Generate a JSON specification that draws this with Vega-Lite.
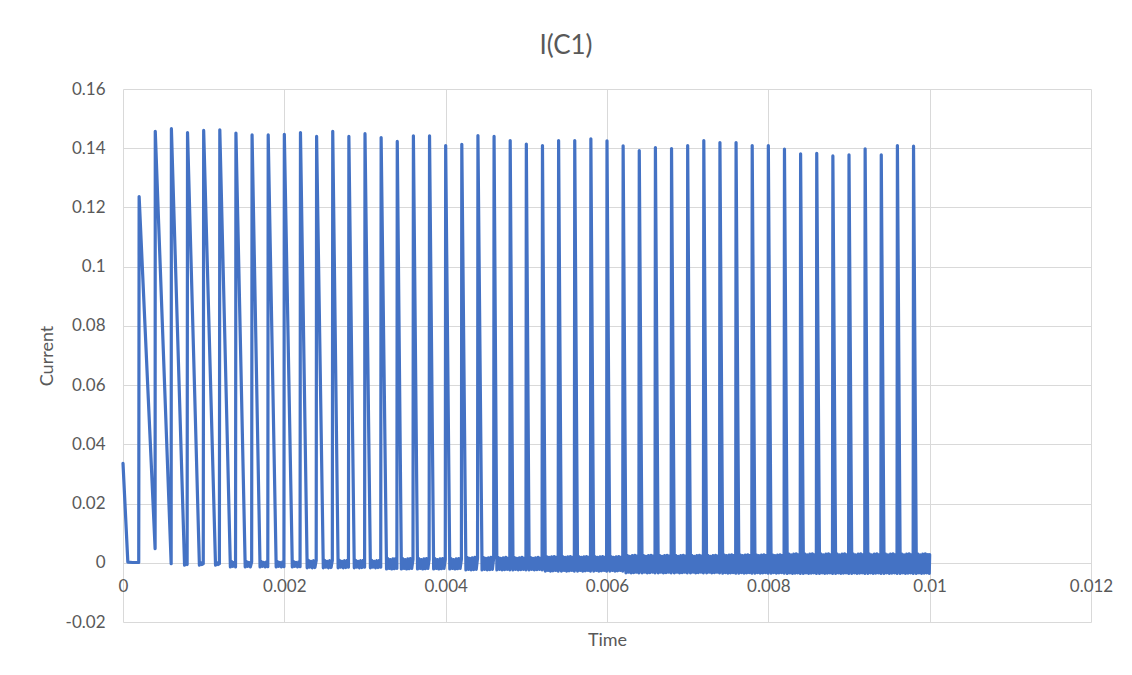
{
"$schema":"https://vega.github.io/schema/vega-lite/v6.json",
"width":968,"height":533,
"autosize":{"type":"none"},
"padding":{"left":123,"top":89,"right":41,"bottom":53},
"background":"white",
"title":{"text":"I(C1)","anchor":"middle","fontSize":26,"font":"Lato","fontWeight":"normal","color":"#595959","dx":-41,"offset":0,"baseline":"alphabetic"},
"data":{"values":[
{"t":0,"i":0.0336},{"t":0.00006,"i":0.0002},{"t":0.00012,"i":0.0001},{"t":0.000195,"i":0.0001},
{"t":0.0002,"i":0.1237},{"t":0.000398,"i":0.0048},
{"t":0.0004,"i":0.1457},{"t":0.000597,"i":-0.0003},
{"t":0.0006,"i":0.1466},{"t":0.000763,"i":-0.0008},{"t":0.000779,"i":0},{"t":0.000795,"i":-0.0006},
{"t":0.0008,"i":0.1453},{"t":0.000947,"i":-0.0008},{"t":0.000963,"i":0},{"t":0.000979,"i":-0.0006},{"t":0.000995,"i":-0.0003},
{"t":0.001,"i":0.146},{"t":0.001147,"i":-0.0008},{"t":0.001163,"i":0},{"t":0.001179,"i":-0.0006},{"t":0.001195,"i":-0.0003},
{"t":0.0012,"i":0.1462},{"t":0.001331,"i":-0.0014},{"t":0.001347,"i":0.0004},{"t":0.001363,"i":-0.0012},{"t":0.001379,"i":0.0001},{"t":0.001395,"i":-0.0014},
{"t":0.0014,"i":0.1451},{"t":0.001515,"i":-0.0014},{"t":0.001531,"i":0.0004},{"t":0.001547,"i":-0.0012},{"t":0.001563,"i":0.0001},{"t":0.001579,"i":-0.0014},{"t":0.001595,"i":0.0003},
{"t":0.0016,"i":0.1445},{"t":0.001699,"i":-0.0014},{"t":0.001715,"i":0.0004},{"t":0.001731,"i":-0.0012},{"t":0.001747,"i":0.0001},{"t":0.001763,"i":-0.0014},{"t":0.001779,"i":0.0003},{"t":0.001795,"i":-0.0013},
{"t":0.0018,"i":0.1445},{"t":0.001899,"i":-0.0014},{"t":0.001915,"i":0.0004},{"t":0.001931,"i":-0.0012},{"t":0.001947,"i":0.0001},{"t":0.001963,"i":-0.0014},{"t":0.001979,"i":0.0003},{"t":0.001995,"i":-0.0013},
{"t":0.002,"i":0.1447},{"t":0.002099,"i":-0.0014},{"t":0.002115,"i":0.0004},{"t":0.002131,"i":-0.0012},{"t":0.002147,"i":0.0001},{"t":0.002163,"i":-0.0014},{"t":0.002179,"i":0.0003},{"t":0.002195,"i":-0.0013},
{"t":0.0022,"i":0.1453},{"t":0.002283,"i":-0.0017},{"t":0.002299,"i":0.0008},{"t":0.002315,"i":-0.0015},{"t":0.002331,"i":0.0005},{"t":0.002347,"i":-0.0017},{"t":0.002363,"i":0.0007},{"t":0.002379,"i":-0.0016},{"t":0.002395,"i":0.0008},
{"t":0.0024,"i":0.144},{"t":0.002483,"i":-0.0017},{"t":0.002499,"i":0.0008},{"t":0.002515,"i":-0.0015},{"t":0.002531,"i":0.0005},{"t":0.002547,"i":-0.0017},{"t":0.002563,"i":0.0007},{"t":0.002579,"i":-0.0016},{"t":0.002595,"i":0.0008},
{"t":0.0026,"i":0.1457},{"t":0.002667,"i":-0.0017},{"t":0.002683,"i":0.0008},{"t":0.002699,"i":-0.0015},{"t":0.002715,"i":0.0005},{"t":0.002731,"i":-0.0017},{"t":0.002747,"i":0.0007},{"t":0.002763,"i":-0.0016},{"t":0.002779,"i":0.0008},{"t":0.002795,"i":-0.0015},
{"t":0.0028,"i":0.144},{"t":0.002867,"i":-0.0017},{"t":0.002883,"i":0.0008},{"t":0.002899,"i":-0.0015},{"t":0.002915,"i":0.0005},{"t":0.002931,"i":-0.0017},{"t":0.002947,"i":0.0007},{"t":0.002963,"i":-0.0016},{"t":0.002979,"i":0.0008},{"t":0.002995,"i":-0.0015},
{"t":0.003,"i":0.1449},{"t":0.003067,"i":-0.0017},{"t":0.003083,"i":0.0008},{"t":0.003099,"i":-0.0015},{"t":0.003115,"i":0.0005},{"t":0.003131,"i":-0.0017},{"t":0.003147,"i":0.0007},{"t":0.003163,"i":-0.0016},{"t":0.003179,"i":0.0008},{"t":0.003195,"i":-0.0015},
{"t":0.0032,"i":0.1436},{"t":0.003267,"i":-0.0021},{"t":0.003283,"i":0.0014},{"t":0.003299,"i":-0.0019},{"t":0.003315,"i":0.0011},{"t":0.003331,"i":-0.0021},{"t":0.003347,"i":0.0013},{"t":0.003363,"i":-0.002},{"t":0.003379,"i":0.0014},{"t":0.003395,"i":-0.0019},
{"t":0.0034,"i":0.1423},{"t":0.003451,"i":-0.0021},{"t":0.003467,"i":0.0014},{"t":0.003483,"i":-0.0019},{"t":0.003499,"i":0.0011},{"t":0.003515,"i":-0.0021},{"t":0.003531,"i":0.0013},{"t":0.003547,"i":-0.002},{"t":0.003563,"i":0.0014},{"t":0.003579,"i":-0.0019},{"t":0.003595,"i":0.0012},
{"t":0.0036,"i":0.1442},{"t":0.003651,"i":-0.0021},{"t":0.003667,"i":0.0014},{"t":0.003683,"i":-0.0019},{"t":0.003699,"i":0.0011},{"t":0.003715,"i":-0.0021},{"t":0.003731,"i":0.0013},{"t":0.003747,"i":-0.002},{"t":0.003763,"i":0.0014},{"t":0.003779,"i":-0.0019},{"t":0.003795,"i":0.0012},
{"t":0.0038,"i":0.1442},{"t":0.003851,"i":-0.0021},{"t":0.003867,"i":0.0014},{"t":0.003883,"i":-0.0019},{"t":0.003899,"i":0.0011},{"t":0.003915,"i":-0.0021},{"t":0.003931,"i":0.0013},{"t":0.003947,"i":-0.002},{"t":0.003963,"i":0.0014},{"t":0.003979,"i":-0.0019},{"t":0.003995,"i":0.0012},
{"t":0.004,"i":0.1409},{"t":0.004051,"i":-0.0021},{"t":0.004067,"i":0.0014},{"t":0.004083,"i":-0.0019},{"t":0.004099,"i":0.0011},{"t":0.004115,"i":-0.0021},{"t":0.004131,"i":0.0013},{"t":0.004147,"i":-0.002},{"t":0.004163,"i":0.0014},{"t":0.004179,"i":-0.0019},{"t":0.004195,"i":0.0012},
{"t":0.0042,"i":0.1413},{"t":0.004251,"i":-0.0024},{"t":0.004267,"i":0.0018},{"t":0.004283,"i":-0.0022},{"t":0.004299,"i":0.0015},{"t":0.004315,"i":-0.0024},{"t":0.004331,"i":0.0017},{"t":0.004347,"i":-0.0023},{"t":0.004363,"i":0.0018},{"t":0.004379,"i":-0.0022},{"t":0.004395,"i":0.0016},
{"t":0.0044,"i":0.1443},{"t":0.004451,"i":-0.0024},{"t":0.004467,"i":0.0018},{"t":0.004483,"i":-0.0022},{"t":0.004499,"i":0.0015},{"t":0.004515,"i":-0.0024},{"t":0.004531,"i":0.0017},{"t":0.004547,"i":-0.0023},{"t":0.004563,"i":0.0018},{"t":0.004579,"i":-0.0022},{"t":0.004595,"i":0.0016},
{"t":0.0046,"i":0.144},{"t":0.004635,"i":-0.0024},{"t":0.004651,"i":0.0018},{"t":0.004667,"i":-0.0022},{"t":0.004683,"i":0.0015},{"t":0.004699,"i":-0.0024},{"t":0.004715,"i":0.0017},{"t":0.004731,"i":-0.0023},{"t":0.004747,"i":0.0018},{"t":0.004763,"i":-0.0022},{"t":0.004779,"i":0.0016},{"t":0.004795,"i":-0.0024},
{"t":0.0048,"i":0.1426},{"t":0.004835,"i":-0.0024},{"t":0.004851,"i":0.0018},{"t":0.004867,"i":-0.0022},{"t":0.004883,"i":0.0015},{"t":0.004899,"i":-0.0024},{"t":0.004915,"i":0.0017},{"t":0.004931,"i":-0.0023},{"t":0.004947,"i":0.0018},{"t":0.004963,"i":-0.0022},{"t":0.004979,"i":0.0016},{"t":0.004995,"i":-0.0024},
{"t":0.005,"i":0.1414},{"t":0.005035,"i":-0.0024},{"t":0.005051,"i":0.0018},{"t":0.005067,"i":-0.0022},{"t":0.005083,"i":0.0015},{"t":0.005099,"i":-0.0024},{"t":0.005115,"i":0.0017},{"t":0.005131,"i":-0.0023},{"t":0.005147,"i":0.0018},{"t":0.005163,"i":-0.0022},{"t":0.005179,"i":0.0016},{"t":0.005195,"i":-0.0024},
{"t":0.0052,"i":0.1409},{"t":0.005235,"i":-0.0028},{"t":0.005251,"i":0.0021},{"t":0.005267,"i":-0.0026},{"t":0.005283,"i":0.0018},{"t":0.005299,"i":-0.0028},{"t":0.005315,"i":0.002},{"t":0.005331,"i":-0.0027},{"t":0.005347,"i":0.0021},{"t":0.005363,"i":-0.0026},{"t":0.005379,"i":0.0019},{"t":0.005395,"i":-0.0028},
{"t":0.0054,"i":0.1426},{"t":0.005435,"i":-0.0028},{"t":0.005451,"i":0.0021},{"t":0.005467,"i":-0.0026},{"t":0.005483,"i":0.0018},{"t":0.005499,"i":-0.0028},{"t":0.005515,"i":0.002},{"t":0.005531,"i":-0.0027},{"t":0.005547,"i":0.0021},{"t":0.005563,"i":-0.0026},{"t":0.005579,"i":0.0019},{"t":0.005595,"i":-0.0028},
{"t":0.0056,"i":0.1426},{"t":0.005635,"i":-0.0028},{"t":0.005651,"i":0.0021},{"t":0.005667,"i":-0.0026},{"t":0.005683,"i":0.0018},{"t":0.005699,"i":-0.0028},{"t":0.005715,"i":0.002},{"t":0.005731,"i":-0.0027},{"t":0.005747,"i":0.0021},{"t":0.005763,"i":-0.0026},{"t":0.005779,"i":0.0019},{"t":0.005795,"i":-0.0028},
{"t":0.0058,"i":0.1432},{"t":0.005835,"i":-0.0028},{"t":0.005851,"i":0.0021},{"t":0.005867,"i":-0.0026},{"t":0.005883,"i":0.0018},{"t":0.005899,"i":-0.0028},{"t":0.005915,"i":0.002},{"t":0.005931,"i":-0.0027},{"t":0.005947,"i":0.0021},{"t":0.005963,"i":-0.0026},{"t":0.005979,"i":0.0019},{"t":0.005995,"i":-0.0028},
{"t":0.006,"i":0.1425},{"t":0.006035,"i":-0.0028},{"t":0.006051,"i":0.0021},{"t":0.006067,"i":-0.0026},{"t":0.006083,"i":0.0018},{"t":0.006099,"i":-0.0028},{"t":0.006115,"i":0.002},{"t":0.006131,"i":-0.0027},{"t":0.006147,"i":0.0021},{"t":0.006163,"i":-0.0026},{"t":0.006179,"i":0.0019},{"t":0.006195,"i":-0.0028},
{"t":0.0062,"i":0.1408},{"t":0.006235,"i":-0.0034},{"t":0.006251,"i":0.0025},{"t":0.006267,"i":-0.0032},{"t":0.006283,"i":0.0022},{"t":0.006299,"i":-0.0034},{"t":0.006315,"i":0.0024},{"t":0.006331,"i":-0.0033},{"t":0.006347,"i":0.0025},{"t":0.006363,"i":-0.0032},{"t":0.006379,"i":0.0023},{"t":0.006395,"i":-0.0034},
{"t":0.0064,"i":0.1392},{"t":0.006435,"i":-0.0034},{"t":0.006451,"i":0.0025},{"t":0.006467,"i":-0.0032},{"t":0.006483,"i":0.0022},{"t":0.006499,"i":-0.0034},{"t":0.006515,"i":0.0024},{"t":0.006531,"i":-0.0033},{"t":0.006547,"i":0.0025},{"t":0.006563,"i":-0.0032},{"t":0.006579,"i":0.0023},{"t":0.006595,"i":-0.0034},
{"t":0.0066,"i":0.1402},{"t":0.006635,"i":-0.0034},{"t":0.006651,"i":0.0025},{"t":0.006667,"i":-0.0032},{"t":0.006683,"i":0.0022},{"t":0.006699,"i":-0.0034},{"t":0.006715,"i":0.0024},{"t":0.006731,"i":-0.0033},{"t":0.006747,"i":0.0025},{"t":0.006763,"i":-0.0032},{"t":0.006779,"i":0.0023},{"t":0.006795,"i":-0.0034},
{"t":0.0068,"i":0.1399},{"t":0.006835,"i":-0.0034},{"t":0.006851,"i":0.0025},{"t":0.006867,"i":-0.0032},{"t":0.006883,"i":0.0022},{"t":0.006899,"i":-0.0034},{"t":0.006915,"i":0.0024},{"t":0.006931,"i":-0.0033},{"t":0.006947,"i":0.0025},{"t":0.006963,"i":-0.0032},{"t":0.006979,"i":0.0023},{"t":0.006995,"i":-0.0034},
{"t":0.007,"i":0.1409},{"t":0.007035,"i":-0.0034},{"t":0.007051,"i":0.0025},{"t":0.007067,"i":-0.0032},{"t":0.007083,"i":0.0022},{"t":0.007099,"i":-0.0034},{"t":0.007115,"i":0.0024},{"t":0.007131,"i":-0.0033},{"t":0.007147,"i":0.0025},{"t":0.007163,"i":-0.0032},{"t":0.007179,"i":0.0023},{"t":0.007195,"i":-0.0034},
{"t":0.0072,"i":0.1426},{"t":0.007235,"i":-0.0034},{"t":0.007251,"i":0.0025},{"t":0.007267,"i":-0.0032},{"t":0.007283,"i":0.0022},{"t":0.007299,"i":-0.0034},{"t":0.007315,"i":0.0024},{"t":0.007331,"i":-0.0033},{"t":0.007347,"i":0.0025},{"t":0.007363,"i":-0.0032},{"t":0.007379,"i":0.0023},{"t":0.007395,"i":-0.0034},
{"t":0.0074,"i":0.1419},{"t":0.007435,"i":-0.0035},{"t":0.007451,"i":0.0027},{"t":0.007467,"i":-0.0033},{"t":0.007483,"i":0.0024},{"t":0.007499,"i":-0.0035},{"t":0.007515,"i":0.0026},{"t":0.007531,"i":-0.0034},{"t":0.007547,"i":0.0027},{"t":0.007563,"i":-0.0033},{"t":0.007579,"i":0.0025},{"t":0.007595,"i":-0.0035},
{"t":0.0076,"i":0.1419},{"t":0.007635,"i":-0.0035},{"t":0.007651,"i":0.0027},{"t":0.007667,"i":-0.0033},{"t":0.007683,"i":0.0024},{"t":0.007699,"i":-0.0035},{"t":0.007715,"i":0.0026},{"t":0.007731,"i":-0.0034},{"t":0.007747,"i":0.0027},{"t":0.007763,"i":-0.0033},{"t":0.007779,"i":0.0025},{"t":0.007795,"i":-0.0035},
{"t":0.0078,"i":0.1409},{"t":0.007835,"i":-0.0035},{"t":0.007851,"i":0.0027},{"t":0.007867,"i":-0.0033},{"t":0.007883,"i":0.0024},{"t":0.007899,"i":-0.0035},{"t":0.007915,"i":0.0026},{"t":0.007931,"i":-0.0034},{"t":0.007947,"i":0.0027},{"t":0.007963,"i":-0.0033},{"t":0.007979,"i":0.0025},{"t":0.007995,"i":-0.0035},
{"t":0.008,"i":0.1409},{"t":0.008035,"i":-0.0035},{"t":0.008051,"i":0.0027},{"t":0.008067,"i":-0.0033},{"t":0.008083,"i":0.0024},{"t":0.008099,"i":-0.0035},{"t":0.008115,"i":0.0026},{"t":0.008131,"i":-0.0034},{"t":0.008147,"i":0.0027},{"t":0.008163,"i":-0.0033},{"t":0.008179,"i":0.0025},{"t":0.008195,"i":-0.0035},
{"t":0.0082,"i":0.1397},{"t":0.008235,"i":-0.0036},{"t":0.008251,"i":0.003},{"t":0.008267,"i":-0.0034},{"t":0.008283,"i":0.0027},{"t":0.008299,"i":-0.0036},{"t":0.008315,"i":0.0029},{"t":0.008331,"i":-0.0035},{"t":0.008347,"i":0.003},{"t":0.008363,"i":-0.0034},{"t":0.008379,"i":0.0028},{"t":0.008395,"i":-0.0036},
{"t":0.0084,"i":0.1381},{"t":0.008435,"i":-0.0036},{"t":0.008451,"i":0.003},{"t":0.008467,"i":-0.0034},{"t":0.008483,"i":0.0027},{"t":0.008499,"i":-0.0036},{"t":0.008515,"i":0.0029},{"t":0.008531,"i":-0.0035},{"t":0.008547,"i":0.003},{"t":0.008563,"i":-0.0034},{"t":0.008579,"i":0.0028},{"t":0.008595,"i":-0.0036},
{"t":0.0086,"i":0.1383},{"t":0.008635,"i":-0.0036},{"t":0.008651,"i":0.003},{"t":0.008667,"i":-0.0034},{"t":0.008683,"i":0.0027},{"t":0.008699,"i":-0.0036},{"t":0.008715,"i":0.0029},{"t":0.008731,"i":-0.0035},{"t":0.008747,"i":0.003},{"t":0.008763,"i":-0.0034},{"t":0.008779,"i":0.0028},{"t":0.008795,"i":-0.0036},
{"t":0.0088,"i":0.1374},{"t":0.008835,"i":-0.0036},{"t":0.008851,"i":0.003},{"t":0.008867,"i":-0.0034},{"t":0.008883,"i":0.0027},{"t":0.008899,"i":-0.0036},{"t":0.008915,"i":0.0029},{"t":0.008931,"i":-0.0035},{"t":0.008947,"i":0.003},{"t":0.008963,"i":-0.0034},{"t":0.008979,"i":0.0028},{"t":0.008995,"i":-0.0036},
{"t":0.009,"i":0.1378},{"t":0.009035,"i":-0.0036},{"t":0.009051,"i":0.003},{"t":0.009067,"i":-0.0034},{"t":0.009083,"i":0.0027},{"t":0.009099,"i":-0.0036},{"t":0.009115,"i":0.0029},{"t":0.009131,"i":-0.0035},{"t":0.009147,"i":0.003},{"t":0.009163,"i":-0.0034},{"t":0.009179,"i":0.0028},{"t":0.009195,"i":-0.0036},
{"t":0.0092,"i":0.1398},{"t":0.009235,"i":-0.0036},{"t":0.009251,"i":0.003},{"t":0.009267,"i":-0.0034},{"t":0.009283,"i":0.0027},{"t":0.009299,"i":-0.0036},{"t":0.009315,"i":0.0029},{"t":0.009331,"i":-0.0035},{"t":0.009347,"i":0.003},{"t":0.009363,"i":-0.0034},{"t":0.009379,"i":0.0028},{"t":0.009395,"i":-0.0036},
{"t":0.0094,"i":0.1378},{"t":0.009435,"i":-0.0036},{"t":0.009451,"i":0.003},{"t":0.009467,"i":-0.0034},{"t":0.009483,"i":0.0027},{"t":0.009499,"i":-0.0036},{"t":0.009515,"i":0.0029},{"t":0.009531,"i":-0.0035},{"t":0.009547,"i":0.003},{"t":0.009563,"i":-0.0034},{"t":0.009579,"i":0.0028},{"t":0.009595,"i":-0.0036},
{"t":0.0096,"i":0.1409},{"t":0.009635,"i":-0.0036},{"t":0.009651,"i":0.003},{"t":0.009667,"i":-0.0034},{"t":0.009683,"i":0.0027},{"t":0.009699,"i":-0.0036},{"t":0.009715,"i":0.0029},{"t":0.009731,"i":-0.0035},{"t":0.009747,"i":0.003},{"t":0.009763,"i":-0.0034},{"t":0.009779,"i":0.0028},{"t":0.009795,"i":-0.0036},
{"t":0.0098,"i":0.1407},{"t":0.009835,"i":-0.0036},{"t":0.009851,"i":0.003},{"t":0.009867,"i":-0.0034},{"t":0.009883,"i":0.0027},{"t":0.009899,"i":-0.0036},{"t":0.009915,"i":0.0029},{"t":0.009931,"i":-0.0035},{"t":0.009947,"i":0.003},{"t":0.009963,"i":-0.0034},{"t":0.009979,"i":0.0028},{"t":0.009995,"i":-0.0036},
{"t":0.01,"i":0.0028}
]},
"mark":{"type":"line","color":"#4472C4","strokeWidth":3.2,"strokeJoin":"round","strokeCap":"round"},
"encoding":{
"x":{"field":"t","type":"quantitative","scale":{"domain":[0,0.012],"nice":false,"zero":false},
"axis":{"title":"Time","values":[0,0.002,0.004,0.006,0.008,0.01,0.012],"offset":-59.2,"labelPadding":16,"labelFlush":false,"labelOverlap":false,"labelExpr":"replace(format(datum.value,'~g'),'−','-')","titleX":484,"titleY":78,"titleBaseline":"middle","titleAlign":"center"}},
"y":{"field":"i","type":"quantitative","scale":{"domain":[-0.02,0.16],"nice":false,"zero":false},
"axis":{"title":"Current","values":[-0.02,0,0.02,0.04,0.06,0.08,0.1,0.12,0.14,0.16],"labelPadding":18,"labelFlush":false,"labelOverlap":false,"labelExpr":"replace(format(datum.value,'~g'),'−','-')","titleX":-76,"titleY":266.5,"titleAngle":-90,"titleBaseline":"middle","titleAlign":"center"}}
},
"config":{
"view":{"stroke":null},
"axis":{"grid":true,"gridColor":"#d9d9d9","gridWidth":1,"domain":false,"ticks":false,"tickSize":0,"labelFont":"Lato","labelFontSize":17,"labelColor":"#595959","titleFont":"Lato","titleFontSize":18,"titleFontWeight":"normal","titleColor":"#595959"}
}
}
